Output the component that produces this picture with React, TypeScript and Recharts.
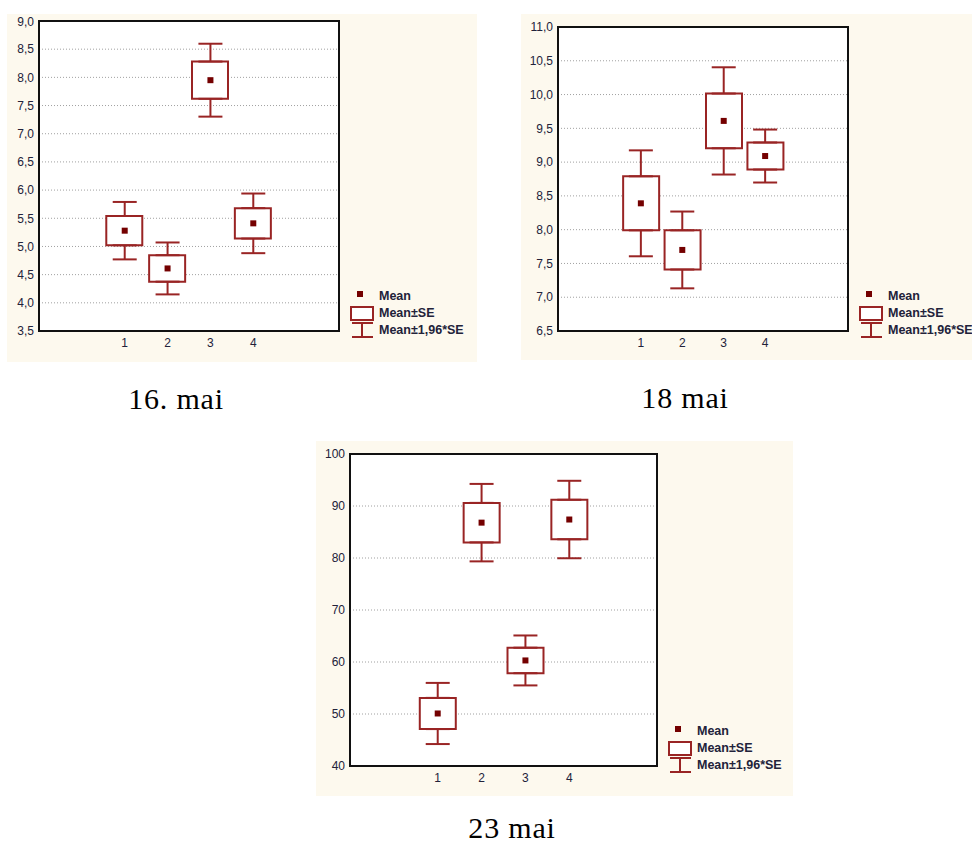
import React from "react";
import {
  Bar,
  CartesianGrid,
  ComposedChart,
  ErrorBar,
  ReferenceArea,
  Scatter,
  XAxis,
  YAxis,
} from "recharts";

// groups on the x axis
const groups = ["1", "2", "3", "4"];

// 16. mai
const may16Mean = [5.28, 4.61, 7.95, 5.41];
const may16Se = [0.26, 0.235, 0.33, 0.27];
const may16Ticks = [3.5, 4, 4.5, 5, 5.5, 6, 6.5, 7, 7.5, 8, 8.5, 9];

// 18 mai
const may18Mean = [8.39, 7.7, 9.61, 9.09];
const may18Se = [0.4, 0.29, 0.405, 0.2];
const may18Ticks = [6.5, 7, 7.5, 8, 8.5, 9, 9.5, 10, 10.5, 11];

// 23 mai
const may23Mean = [50.1, 86.8, 60.3, 87.4];
const may23Se = [3.0, 3.8, 2.45, 3.8];
const may23Ticks = [40, 50, 60, 70, 80, 90, 100];

const legendLabels = ["Mean", "Mean±SE", "Mean±1,96*SE"];

const RED = "#992424";
const DARK_RED = "#740000";
const CREAM = "#fdf9ee";
const TICK_COLOR = "#22223a";
const SANS = "Liberation Sans, Arial, sans-serif";

const MeanMark = (props: any) => {
  const { cx, cy } = props;
  return <rect x={cx - 3} y={cy - 3} width={6} height={6} fill={DARK_RED} />;
};

const Hidden = () => <g />;

type PanelProps = {
  means: number[];
  ses: number[];
  yTicks: number[];
  decimals: number;
  left: number;
  top: number;
  width: number;
  height: number;
  margin: { top: number; right: number; bottom: number; left: number };
  yWidth: number;
};

function Legend({ x, y }: { x: number; y: number }) {
  return (
    <svg
      width={140}
      height={56}
      style={{ position: "absolute", left: x, top: y, overflow: "visible" }}
    >
      <rect x={7} y={4} width={6} height={6} fill={DARK_RED} />
      <rect x={1} y={20} width={22} height={13} fill="#fff" stroke={RED} strokeWidth={2} />
      <line x1={2} x2={23} y1={36} y2={36} stroke={RED} strokeWidth={2} />
      <line x1={12} x2={12} y1={36} y2={50} stroke={RED} strokeWidth={2} />
      <line x1={2} x2={23} y1={50} y2={50} stroke={RED} strokeWidth={2} />
      {legendLabels.map((t, i) => (
        <text
          key={t}
          x={29}
          y={9 + i * 17}
          dy="0.35em"
          fontFamily={SANS}
          fontSize={12.5}
          fontWeight="bold"
          fill={TICK_COLOR}
        >
          {t}
        </text>
      ))}
    </svg>
  );
}

function BoxPanel(p: PanelProps) {
  // whiskers are drawn as two stems, from the box edge out to mean ± 1.96*SE
  const rows = groups.map((g, i) => {
    const m = p.means[i];
    const se = p.ses[i];
    const ci = 1.96 * se;
    return {
      x: i + 1,
      mean: m,
      box: [m - se, m + se],
      upMid: m + (se + ci) / 2,
      loMid: m - (se + ci) / 2,
      stem: (ci - se) / 2,
    };
  });
  const yMin = p.yTicks[0];
  const yMax = p.yTicks[p.yTicks.length - 1];
  const plotRight = p.width - p.margin.right;
  const plotBottom = p.height - p.margin.bottom - 22;
  return (
    <div
      style={{
        position: "absolute",
        left: p.left,
        top: p.top,
        width: p.width,
        height: p.height,
        background: CREAM,
      }}
    >
      <ComposedChart width={p.width} height={p.height} data={rows} margin={p.margin}>
        <CartesianGrid
          vertical={false}
          fill="#fff"
          stroke="#a0a0a0"
          strokeDasharray="1 2"
        />
        <XAxis
          dataKey="x"
          type="number"
          domain={[-1, 6]}
          ticks={[0, 1, 2, 3, 4, 5]}
          allowDataOverflow
          height={22}
          axisLine={false}
          tickLine={false}
          tickSize={0}
          tickMargin={7}
          tick={{ fill: TICK_COLOR, fontSize: 12, fontFamily: SANS }}
          tickFormatter={(v: number) => (v >= 1 && v <= 4 ? groups[v - 1] : "")}
        />
        <YAxis
          type="number"
          domain={[yMin, yMax]}
          ticks={p.yTicks}
          allowDataOverflow
          width={p.yWidth}
          axisLine={false}
          tickLine={false}
          tickSize={0}
          tickMargin={5}
          tick={{ fill: TICK_COLOR, fontSize: 12, fontFamily: SANS }}
          tickFormatter={(v: number) => v.toFixed(p.decimals).replace(".", ",")}
        />
        <Scatter dataKey="upMid" shape={Hidden} isAnimationActive={false}>
          <ErrorBar dataKey="stem" direction="y" width={12} stroke={RED} strokeWidth={2} />
        </Scatter>
        <Scatter dataKey="loMid" shape={Hidden} isAnimationActive={false}>
          <ErrorBar dataKey="stem" direction="y" width={12} stroke={RED} strokeWidth={2} />
        </Scatter>
        <Bar
          dataKey="box"
          barSize={36}
          fill="#fff"
          stroke={RED}
          strokeWidth={2}
          isAnimationActive={false}
        />
        <Scatter dataKey="mean" shape={MeanMark} isAnimationActive={false} />
        <ReferenceArea
          x1={-1}
          x2={6}
          y1={yMin}
          y2={yMax}
          fill="none"
          fillOpacity={0}
          stroke="#111"
          strokeWidth={2}
        />
      </ComposedChart>
      <Legend x={plotRight + 11} y={plotBottom - 44} />
    </div>
  );
}

const titleProps = {
  fontFamily: "Liberation Serif, Times New Roman, serif",
  fontSize: 30,
  letterSpacing: 0.8,
  fill: "#000",
  textAnchor: "middle" as const,
};

export default function App() {
  return (
    <div
      style={{
        position: "absolute",
        left: 0,
        top: 0,
        width: 972,
        height: 846,
        background: "#fff",
        overflow: "hidden",
      }}
    >
      <BoxPanel
        means={may16Mean}
        ses={may16Se}
        yTicks={may16Ticks}
        decimals={1}
        left={7}
        top={14}
        width={470}
        height={348}
        margin={{ top: 7, right: 138, bottom: 9, left: 0 }}
        yWidth={32}
      />
      <BoxPanel
        means={may18Mean}
        ses={may18Se}
        yTicks={may18Ticks}
        decimals={1}
        left={521}
        top={14}
        width={451}
        height={346}
        margin={{ top: 13, right: 124, bottom: 7, left: 0 }}
        yWidth={37}
      />
      <BoxPanel
        means={may23Mean}
        ses={may23Se}
        yTicks={may23Ticks}
        decimals={0}
        left={316}
        top={441}
        width={477}
        height={355}
        margin={{ top: 13, right: 136, bottom: 8, left: 0 }}
        yWidth={34}
      />
      <svg
        width={972}
        height={846}
        style={{ position: "absolute", left: 0, top: 0, pointerEvents: "none" }}
      >
        <text x={176} y={409} {...titleProps}>16. mai</text>
        <text x={685} y={408} {...titleProps}>18 mai</text>
        <text x={512} y={838} {...titleProps}>23 mai</text>
      </svg>
    </div>
  );
}
